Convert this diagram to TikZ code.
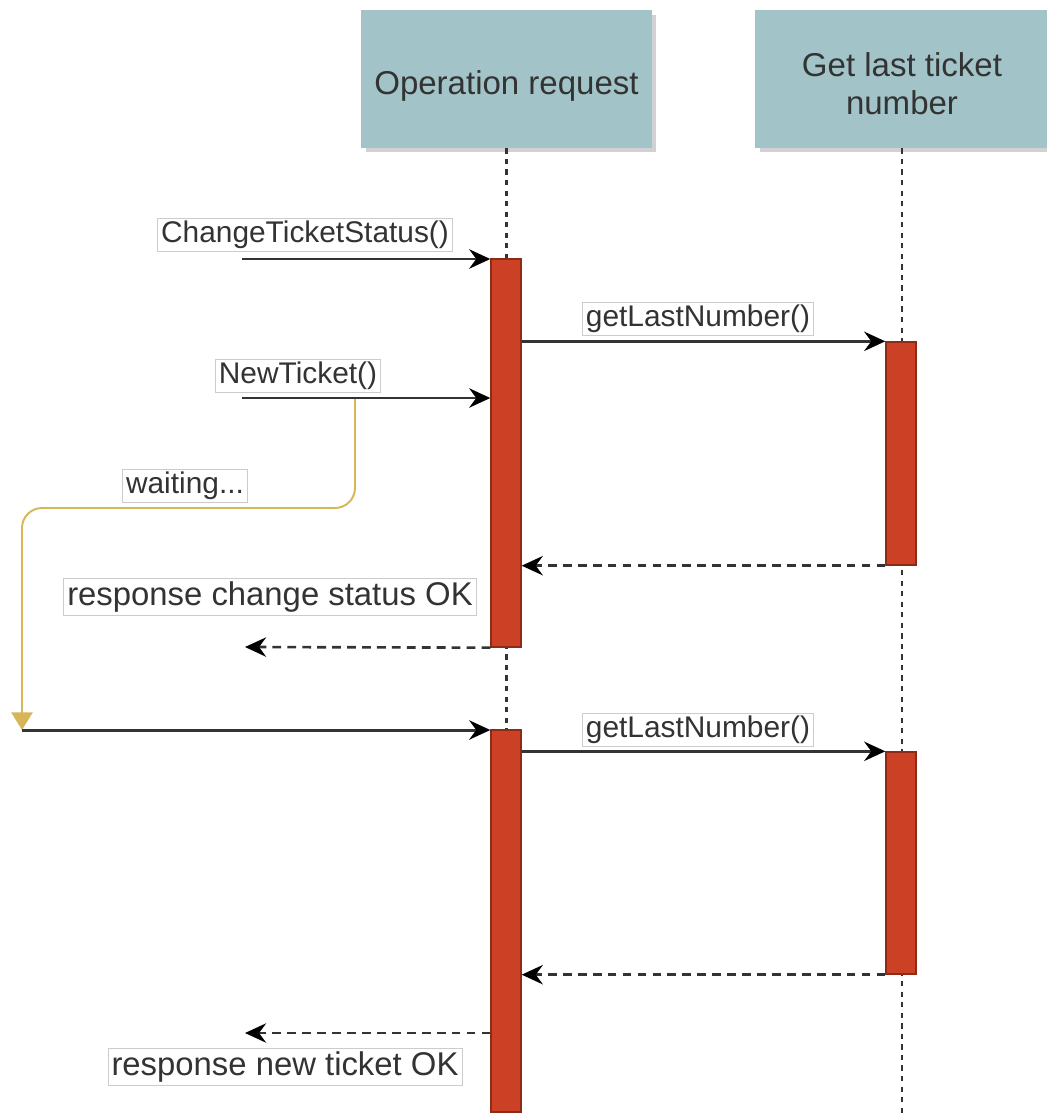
\documentclass[tikz,border=0pt]{standalone}
\usepackage{fontspec}
\setmainfont{Liberation Sans}
\usetikzlibrary{positioning,arrows.meta,shadows}

\definecolor{headfill}{HTML}{A2C4C9}
\definecolor{barfill}{HTML}{CC4125}
\definecolor{barline}{HTML}{8E2B17}
\definecolor{waitline}{HTML}{D6B656}
\definecolor{txtgray}{HTML}{333333}

\newcommand{\barwidth}{0.6cm}
\newcommand{\lanewidth}{5.82cm}
\newcommand{\laneheight}{2.76cm}
\newcommand{\headstrut}[1]{\rule{0pt}{#1}}

\tikzstyle{head}=[fill=headfill,text=txtgray,draw=none,shape=rectangle,
                  minimum width=\lanewidth,minimum height=\laneheight,align=center,
                  font=\fontsize{18.8}{21.6}\selectfont,
                  drop shadow={shadow xshift=0.09cm,shadow yshift=-0.09cm,fill=black!18,opacity=1}]
\tikzstyle{lifeline}=[draw=txtgray,line width=1.2pt,dash pattern=on 3pt off 3pt]
\tikzstyle{act}=[fill=barfill,draw=barline,shape=rectangle,line width=0.8pt,
                 minimum width=\barwidth,inner sep=0pt]
\tikzstyle{msg}=[fill=white,text=txtgray,draw=black!20,shape=rectangle,
                 inner xsep=2pt,inner ysep=1.5pt,font=\fontsize{17}{20}\selectfont]
\tikzstyle{resp}=[msg,inner ysep=2pt,font=\fontsize{18.7}{22}\selectfont]
\tikzstyle{call}=[-{Stealth[length=12pt,width=11pt,inset=4pt,color=black]},draw=txtgray,line width=1.7pt]
\tikzstyle{reply}=[call,line width=1.5pt,dash pattern=on 5pt off 3.5pt]
\tikzstyle{wait}=[-{Triangle[length=10pt,width=12pt]},draw=waitline,line width=1.1pt,
                  rounded corners=0.4cm]

\begin{document}
\begin{tikzpicture}[x=0.02cm,y=-0.02cm]
\useasboundingbox (0,0) rectangle (1046,1115);

% lifelines
\node [head] (opreq) at (506.5,79) {\headstrut{21.7pt}Operation request};
\node [head, minimum width=5.88cm] (lastnum) at (902,79) {\headstrut{19.3pt}Get last ticket\\number};
\coordinate (base) at (0,1115);
\draw [lifeline] (opreq.south) -- (opreq.south |- base);
\draw [lifeline] (lastnum.south) -- (lastnum.south |- base);

% activations
\node [act, minimum height=7.76cm] (opbar1) at (506,453) {};
\node [act, minimum height=4.46cm] (numbar1) at (901,453.5) {};
\node [act, minimum height=7.64cm] (opbar2) at (506,921) {};
\node [act, minimum height=4.44cm] (numbar2) at (901,863) {};

% first request
\coordinate (cts) at (242,259);
\draw [call] (cts) -- (cts -| opbar1.west);
\node [msg] (ctslbl) at (305,235) {ChangeTicketStatus()};

\draw [call] (opbar1.east |- numbar1.north) -- (numbar1.north west);
\node [msg] (glnlbl1) at (698,319) {getLastNumber()};

\coordinate (nt) at (242,398);
\draw [call] (nt) -- (nt -| opbar1.west);
\node [msg] (ntlbl) at (298,376) {NewTicket()};

\draw [reply] (numbar1.south west) -- (numbar1.south west -| opbar1.east);
\coordinate (resp1) at (245,647);
\draw [reply] (opbar1.south west) -- (resp1);
\node [resp] (resp1lbl) at (270,597) {response change status OK};

% waiting
\coordinate (waitstart) at (355,399);
\coordinate (waitend) at (22,730);
\draw [wait] (waitstart) -- ++(0,109) -| (waitend);
\node [msg] (waitlbl) at (185,486) {waiting...};

% second request
\draw [call] (waitend) -- (waitend -| opbar2.west);
\draw [call] (opbar2.east |- numbar2.north) -- (numbar2.north west);
\node [msg] (glnlbl2) at (698,730) {getLastNumber()};

\draw [reply] (numbar2.south west) -- (numbar2.south west -| opbar2.east);
\coordinate (resp2) at (245,1033);
\draw [reply] (resp2 -| opbar2.west) -- (resp2);
\node [resp] (resp2lbl) at (285,1067) {response new ticket OK};
\end{tikzpicture}
\end{document}
